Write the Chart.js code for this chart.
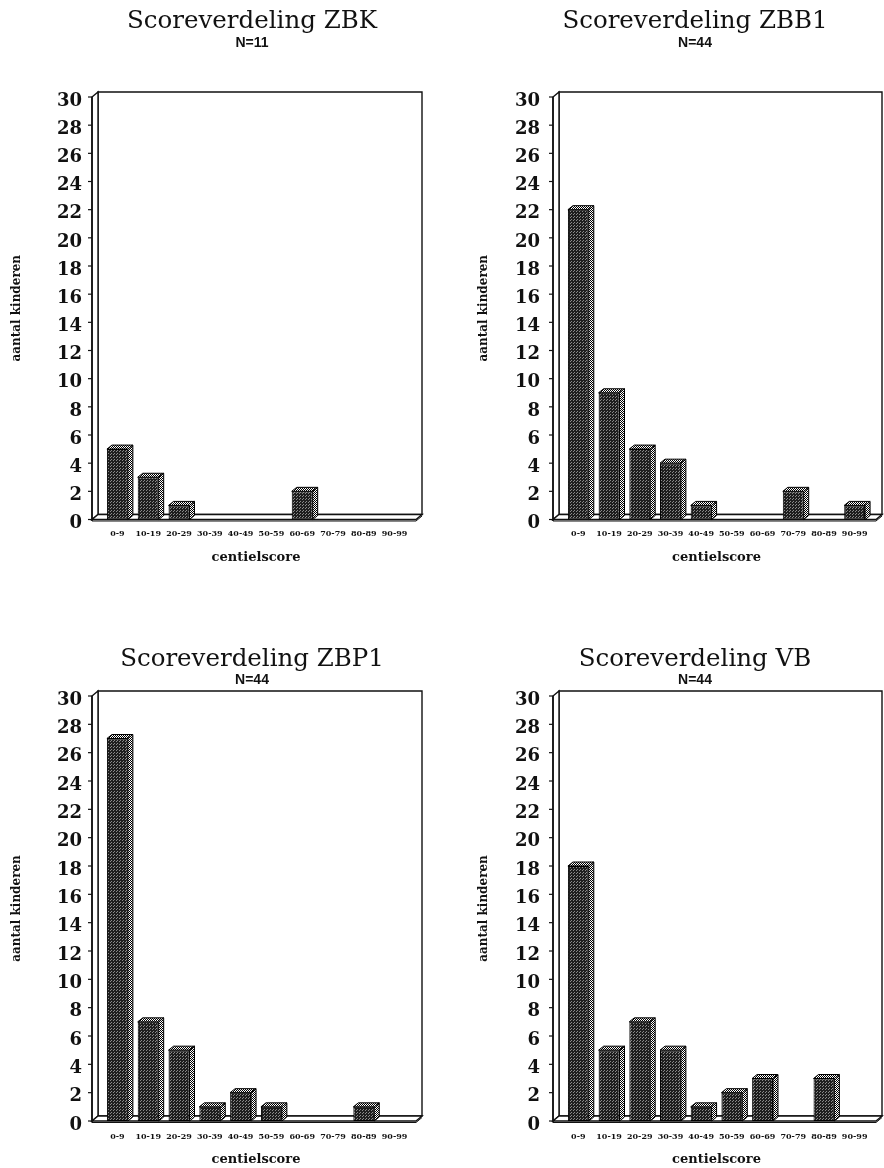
<!DOCTYPE html>
<html><head><meta charset="utf-8">
<script src="https://cdn.jsdelivr.net/npm/chart.js@4.4.1/dist/chart.umd.min.js"></script>
<style>
html,body{margin:0;padding:0;background:#fff;overflow:hidden;width:884px;height:1168px;position:relative;}
canvas{position:absolute;}
</style></head><body>
<canvas id="c1" width="504" height="584" style="left:0;top:0"></canvas>
<canvas id="c2" width="506" height="584" style="left:442px;top:0"></canvas>
<canvas id="c3" width="504" height="584" style="left:0;top:584px"></canvas>
<canvas id="c4" width="506" height="584" style="left:442px;top:584px"></canvas>
<script>
const categories = ['0-9','10-19','20-29','30-39','40-49','50-59','60-69','70-79','80-89','90-99'];
const zbkValues  = [5, 3, 1, 0, 0, 0, 2, 0, 0, 0];
const zbb1Values = [22, 9, 5, 4, 1, 0, 0, 2, 0, 1];
const zbp1Values = [27, 7, 5, 1, 2, 1, 0, 0, 1, 0];
const vbValues   = [18, 5, 7, 5, 1, 2, 3, 0, 3, 0];
const chartTitles = ['Scoreverdeling ZBK','Scoreverdeling ZBB1','Scoreverdeling ZBP1','Scoreverdeling VB'];
const nLabels = ['N=11','N=44','N=44','N=44'];
const yMin = 0, yMax = 30, yStep = 2;
const xAxisTitle = 'centielscore';
const yAxisTitle = 'aantal kinderen';

const SERIF = "'DejaVu Serif', serif";

function makePattern(bg, dot, size, pts) {
  const c = document.createElement('canvas');
  c.width = c.height = size;
  const g = c.getContext('2d');
  g.fillStyle = bg; g.fillRect(0, 0, size, size);
  g.fillStyle = dot;
  pts.forEach(p => g.fillRect(p[0], p[1], 1, 1));
  return g.createPattern(c, 'repeat');
}
const frontPat = makePattern('#1e1e1e', '#8a8a8a', 3, [[0,0],[2,1]]);
const sidePat  = makePattern('#ffffff', '#000000', 2, [[0,0],[1,1]]);

const DX = 6, DY = 5;   // depth of the 3D box
const BDX = 5, BDY = 4; // depth of bars

const box3d = {
  id: 'box3d',
  beforeDatasetsDraw(chart) {
    const {ctx, chartArea: a, scales: {y}} = chart;
    const ax = a.left - 10;
    const y0 = y.getPixelForValue(yMin), yT = y.getPixelForValue(yMax);
    const xr = a.right + 6;
    ctx.save();
    ctx.strokeStyle = '#111';
    ctx.lineWidth = 1.4;
    ctx.fillStyle = '#fff';
    ctx.beginPath();
    ctx.rect(ax + DX, yT - DY, xr - ax, y0 - yT);
    ctx.fill(); ctx.stroke();
    ctx.beginPath();
    ctx.moveTo(ax, yT); ctx.lineTo(ax + DX, yT - DY); ctx.lineTo(ax + DX, y0 - DY); ctx.lineTo(ax, y0); ctx.closePath();
    ctx.fill(); ctx.stroke();
    ctx.beginPath();
    ctx.moveTo(ax, y0); ctx.lineTo(xr, y0); ctx.lineTo(xr + DX, y0 - DY); ctx.lineTo(ax + DX, y0 - DY); ctx.closePath();
    ctx.fill(); ctx.stroke();
    ctx.beginPath();
    ctx.moveTo(ax, y0 + 1.5); ctx.lineTo(xr, y0 + 1.5); ctx.lineTo(xr + DX, y0 - DY + 1.5);
    ctx.lineWidth = 1; ctx.stroke();
    ctx.lineWidth = 1.6;
    ctx.beginPath(); ctx.moveTo(ax, yT); ctx.lineTo(ax, y0 + 1.5); ctx.stroke();
    ctx.lineWidth = 1.2;
    for (let v = yMin; v <= yMax; v += yStep) {
      const p = y.getPixelForValue(v);
      ctx.beginPath(); ctx.moveTo(ax - 4, p); ctx.lineTo(ax, p); ctx.stroke();
    }
    ctx.restore();
  },
  afterDatasetsDraw(chart) {
    const {ctx} = chart;
    const meta = chart.getDatasetMeta(0);
    const vals = chart.data.datasets[0].data;
    ctx.save();
    ctx.strokeStyle = '#000';
    ctx.lineWidth = 1;
    meta.data.forEach((bar, i) => {
      if (!vals[i]) return;
      const p = bar.getProps(['x', 'y', 'base', 'width'], true);
      const l = p.x - p.width / 2, r = p.x + p.width / 2, t = p.y, b = p.base;
      ctx.fillStyle = sidePat;
      ctx.beginPath();
      ctx.moveTo(l, t); ctx.lineTo(l + BDX, t - BDY); ctx.lineTo(r + BDX, t - BDY); ctx.lineTo(r, t); ctx.closePath();
      ctx.fill(); ctx.stroke();
      ctx.beginPath();
      ctx.moveTo(r, t); ctx.lineTo(r + BDX, t - BDY); ctx.lineTo(r + BDX, b - BDY); ctx.lineTo(r, b); ctx.closePath();
      ctx.fill(); ctx.stroke();
    });
    ctx.restore();
  }
};

function makeChart(id, idx, values, L) {
  return new Chart(document.getElementById(id), {
    type: 'bar',
    data: {
      labels: categories,
      datasets: [{
        data: values,
        backgroundColor: frontPat,
        borderColor: '#000',
        borderWidth: 1,
        borderSkipped: false,
        barPercentage: 0.68,
        categoryPercentage: 1
      }]
    },
    options: {
      responsive: false,
      animation: false,
      events: [],
      layout: { padding: 0 },
      plugins: {
        legend: { display: false },
        tooltip: { enabled: false },
        title: {
          display: true, text: chartTitles[idx], color: '#111',
          font: { family: SERIF, size: 24.5, weight: 'normal', lineHeight: 1 },
          padding: { top: L.titleTop, bottom: 0 }
        },
        subtitle: {
          display: true, text: nLabels[idx], color: '#111',
          font: { family: "'Liberation Sans', sans-serif", size: 14, weight: 'bold', lineHeight: 1.2 },
          padding: { top: L.subTop, bottom: L.subBottom }
        }
      },
      scales: {
        x: {
          grid: { display: false, drawTicks: false },
          border: { display: false },
          ticks: { color: '#111', autoSkip: false, maxRotation: 0, padding: L.xTickPad,
                   font: { family: SERIF, size: 8, weight: 'bold' } },
          title: { display: true, text: xAxisTitle, color: '#111',
                   font: { family: SERIF, size: 13, weight: 'bold', lineHeight: 1.2 },
                   padding: { top: 0, bottom: L.xTitleBottom } },
          afterFit(s) { s.height = L.xHeight; }
        },
        y: {
          min: yMin, max: yMax,
          grid: { display: false, drawTicks: false },
          border: { display: false },
          ticks: { stepSize: yStep, color: '#111', padding: L.yTickPad, labelOffset: 4,
                   font: { family: SERIF, size: 18, weight: 'bold' } },
          title: { display: true, text: yAxisTitle, color: '#111',
                   font: { family: SERIF, size: 12, weight: 'bold', lineHeight: 1.2 },
                   padding: { top: L.yTitleTop, bottom: 0 } },
          afterFit(s) { s.width = L.yWidth; }
        },
        spacer: {
          type: 'linear', position: 'right',
          grid: { display: false, drawTicks: false },
          border: { display: false },
          ticks: { display: false },
          afterFit(s) { s.width = L.spacer; }
        }
      }
    },
    plugins: [box3d]
  });
}

const topRow = { titleTop: 9.75, subTop: 0, subBottom: 45.95, xHeight: 64.5, xTickPad: 10, xTitleBottom: 18.5 };
const botRow = { titleTop: 63.5, subTop: 0, subBottom: 7.2, xHeight: 47, xTickPad: 11, xTitleBottom: 0.8 };
const leftCol = { yWidth: 102, spacer: 94, yTickPad: 20, yTitleTop: 9.8 };
const rightCol = { yWidth: 121, spacer: 78, yTickPad: 23, yTitleTop: 34.8 };

makeChart('c1', 0, zbkValues, Object.assign({}, topRow, leftCol));
makeChart('c2', 1, zbb1Values, Object.assign({}, topRow, rightCol));
makeChart('c3', 2, zbp1Values, Object.assign({}, botRow, leftCol));
makeChart('c4', 3, vbValues, Object.assign({}, botRow, rightCol));
</script>
</body></html>
